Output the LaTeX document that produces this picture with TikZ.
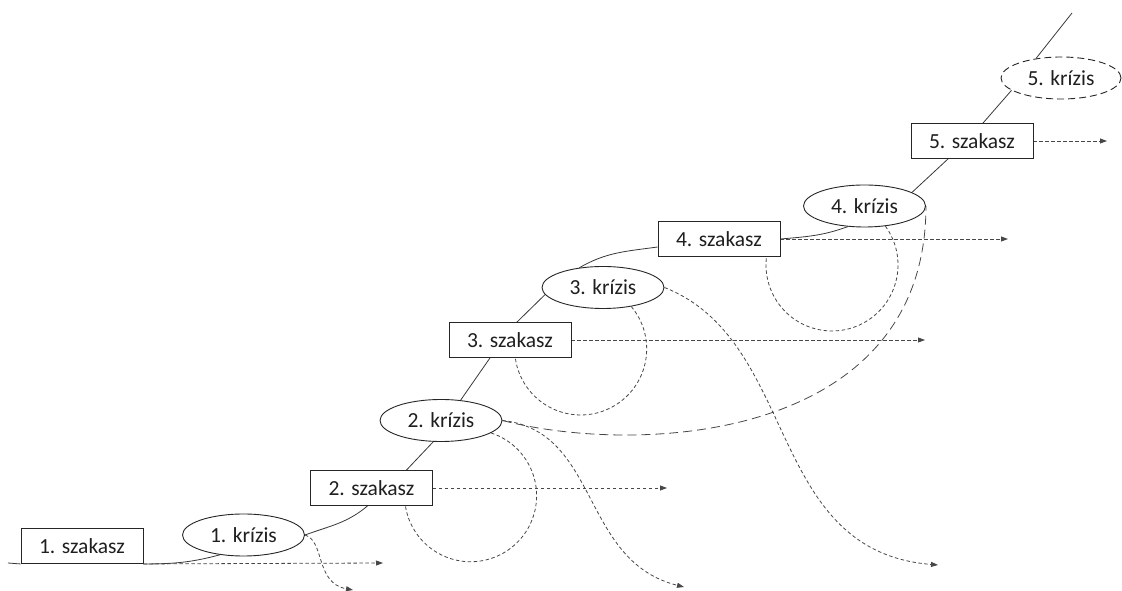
\documentclass[tikz,border=0pt]{standalone}
\usepackage{fontspec}
\setmainfont{Carlito}
\usetikzlibrary{shapes.geometric,arrows.meta,backgrounds}
\begin{document}
\begin{tikzpicture}[x=1pt,y=1pt,
  lbl/.style={font=\fontsize{21.5}{25}\selectfont,text=black!88},
  box/.style={lbl,draw=black!85,line width=0.9pt,fill=white,minimum width=122pt,minimum height=35pt,inner sep=0pt},
  crisis/.style={lbl,ellipse,draw=black!85,line width=0.9pt,fill=white,minimum width=122pt,minimum height=42pt,inner sep=0pt},
  mainline/.style={draw=black!78,line width=0.8pt},
  shortdash/.style={draw=black!72,line width=0.8pt,dash pattern=on 3.5pt off 2.5pt},
  longdash/.style={draw=black!72,line width=0.8pt,dash pattern=on 9pt off 5pt},
  tip/.style={-{Triangle[length=7pt,width=5pt]}}
]
\useasboundingbox (0,0) rectangle (1122,591);
\node[box] (s1) at (82,45) {1. szakasz};
\node[crisis] (k1) at (243.5,56) {1. krízis};
\node[box] (s2) at (371.5,103) {2. szakasz};
\node[crisis] (k2) at (441,170.5) {2. krízis};
\node[box] (s3) at (510,251) {3. szakasz};
\node[crisis] (k3) at (603,303.5) {3. krízis};
\node[box] (s4) at (719,352) {4. szakasz};
\node[crisis] (k4) at (864.5,385) {4. krízis};
\node[box] (s5) at (972,450) {5. szakasz};
\node[crisis,dash pattern=on 7pt off 4pt,minimum width=120pt] (k5) at (1061,513) {5. krízis};
\coordinate (c0) at (8,28);
\coordinate (cEnd) at (1072,578);
\coordinate (a1) at (383,28);
\coordinate (a2) at (667,103);
\coordinate (a3) at (925,251);
\coordinate (a4) at (1008,352);
\coordinate (a5) at (1107,450);
\coordinate (d1) at (353,1);
\coordinate (d2) at (684,4);
\coordinate (d3) at (938,26);
\begin{pgfonlayer}{background}
% main curve
\draw[mainline] (c0) -- (s1.south west);
\draw[mainline] (s1.south east) to[out=0,in=195] (k1.220);
\draw[mainline] (k1.east) to[out=20,in=220] ([xshift=-4pt]s2.south);
\draw[mainline] ([xshift=35pt]s2.north) -- (k2.250);
\draw[mainline] (k2.46) -- ([xshift=-20pt]s3.south);
\draw[mainline] ([xshift=7pt]s3.north) -- (k3.187);
\draw[mainline] (k3.140) to[out=30,in=188] ([yshift=-8pt]s4.west);
\draw[mainline] (s4.east) to[out=5,in=200] (k4.231);
\draw[mainline] (k4.16) -- ([xshift=-24pt]s5.south);
\draw[mainline] ([xshift=11pt]s5.north) -- (k5.194);
\draw[mainline] (k5.142) -- (cEnd);
% horizontal dotted arrows
\draw[shortdash,tip] (s1.south east) -- (a1);
\draw[shortdash,tip] (s2.east) -- (a2);
\draw[shortdash,tip] (s3.east) -- (a3);
\draw[shortdash,tip] (s4.east) -- (a4);
\draw[shortdash,tip] (s5.east) -- (a5);
% loops
\draw[shortdash] (k2.-14) arc[start angle=72,end angle=-172,radius=66];
\draw[shortdash] (k3.-34) arc[start angle=40,end angle=-172,radius=66];
\draw[shortdash] (k4.-44) arc[start angle=36,end angle=-186,radius=66];
% falling curves
\draw[shortdash,tip] (k1.east) .. controls (325,50) and (315,8) .. (d1);
\draw[shortdash,tip] (k2.east) .. controls (600,160) and (580,30) .. (d2);
\draw[shortdash,tip] (k3.east) .. controls (800,250) and (765,40) .. (d3);
% long dashed curve
\draw[longdash] (k2.east) .. controls (640,135) and (926,150) .. (k4.east);
\end{pgfonlayer}
\end{tikzpicture}
\end{document}
